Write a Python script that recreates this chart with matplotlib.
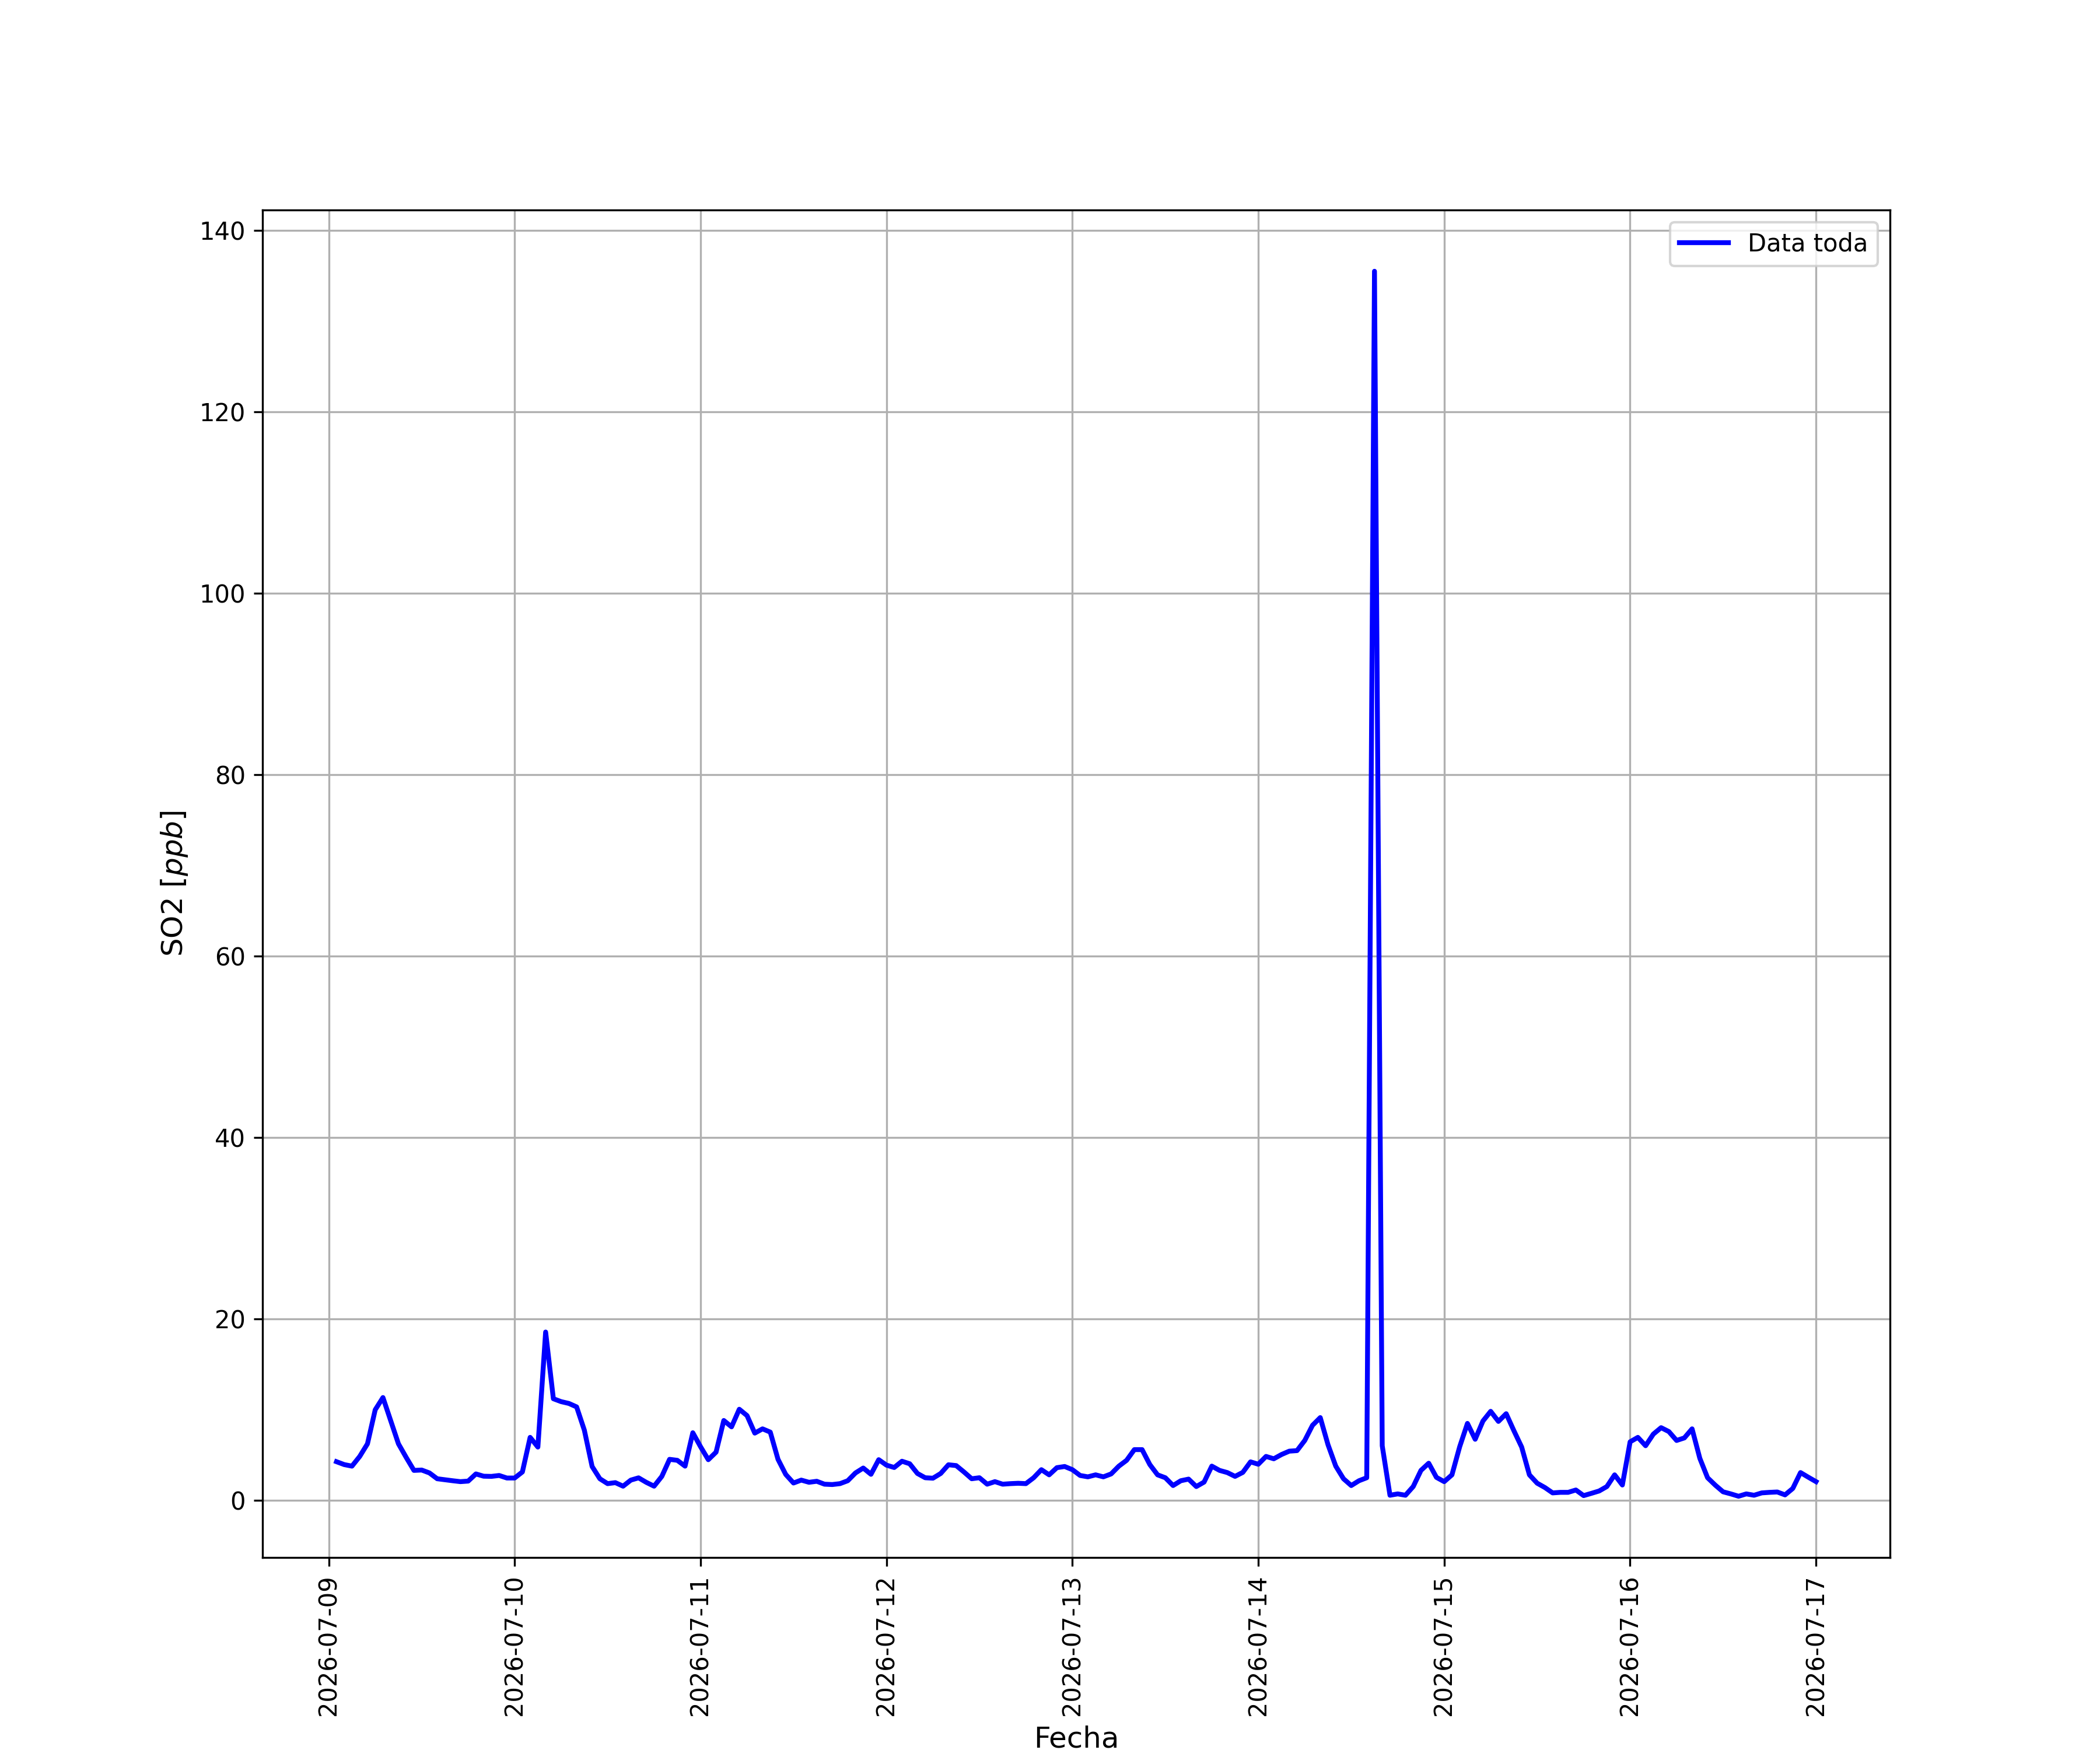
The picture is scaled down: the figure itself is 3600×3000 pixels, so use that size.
#!/usr/bin/env python3
"""
Serie horaria de SO2 (ppb), 2026-07-09 a 2026-07-17.
"""

import matplotlib
matplotlib.use('Agg')
import matplotlib.pyplot as plt
import pandas as pd

# hourly values, one list per day
so2_0709 = [4.28, 3.96, 3.79, 4.86, 6.25, 10.0, 11.35, 8.8, 6.25, 4.75, 3.32, 3.36,
            3.04, 2.4, 2.29, 2.18, 2.08, 2.14, 2.93, 2.68, 2.66, 2.76, 2.48]  # from 01:00
so2_0710 = [2.48, 3.15, 6.96, 5.89, 18.57, 11.22, 10.9, 10.7, 10.32, 7.75, 3.75, 2.4,
            1.86, 1.97, 1.58, 2.25, 2.5, 2.0, 1.58, 2.66, 4.54, 4.43, 3.79, 7.47]
so2_0711 = [5.93, 4.5, 5.33, 8.82, 8.12, 10.06, 9.36, 7.43, 7.9, 7.54, 4.54, 2.87,
            1.93, 2.25, 2.01, 2.12, 1.8, 1.76, 1.86, 2.18, 3.04, 3.58, 2.89, 4.5]
so2_0712 = [3.9, 3.64, 4.33, 4.05, 2.98, 2.51, 2.46, 2.98, 3.94, 3.85, 3.15, 2.4,
            2.51, 1.8, 2.08, 1.8, 1.86, 1.9, 1.86, 2.51, 3.4, 2.83, 3.62, 3.75]
so2_0713 = [3.4, 2.76, 2.61, 2.83, 2.61, 2.93, 3.79, 4.43, 5.61, 5.61, 3.96, 2.83,
            2.51, 1.65, 2.18, 2.36, 1.54, 2.03, 3.79, 3.32, 3.08, 2.66, 3.1, 4.26]
so2_0714 = [4.0, 4.86, 4.6, 5.07, 5.44, 5.5, 6.62, 8.29, 9.14, 6.15, 3.79, 2.4,
            1.65, 2.18, 2.51, 135.5, 6.04, 0.58, 0.73, 0.58, 1.54, 3.32, 4.11, 2.55]
so2_0715 = [2.08, 2.83, 5.93, 8.5, 6.75, 8.76, 9.83, 8.72, 9.57, 7.69, 5.89, 2.83,
            1.91, 1.43, 0.84, 0.9, 0.9, 1.16, 0.54, 0.79, 1.05, 1.54, 2.83, 1.71]
so2_0716 = [6.47, 6.96, 6.04, 7.32, 8.03, 7.6, 6.62, 6.9, 7.9, 4.65, 2.51, 1.69,
            0.96, 0.73, 0.47, 0.73, 0.58, 0.84, 0.9, 0.94, 0.62, 1.33, 3.08, 2.57]
so2_0717 = [2.08]  # 00:00

so2 = (so2_0709 + so2_0710 + so2_0711 + so2_0712 + so2_0713 +
       so2_0714 + so2_0715 + so2_0716 + so2_0717)
fechas = pd.date_range('2026-07-09 01:00', periods=len(so2), freq='h')

fig = plt.figure(figsize=(12, 10), dpi=300)
ax = fig.add_subplot(111)
ax.plot(fechas, so2, color='b', linewidth=2, label='Data toda')

ax.set_xlabel('Fecha', fontsize=12)
ax.set_ylabel('SO2 [$ppb$]', fontsize=12)
ax.grid(True)
ax.legend(loc='upper right')
plt.setp(ax.get_xticklabels(), rotation=90)

fig.savefig('out.png', dpi=300)
